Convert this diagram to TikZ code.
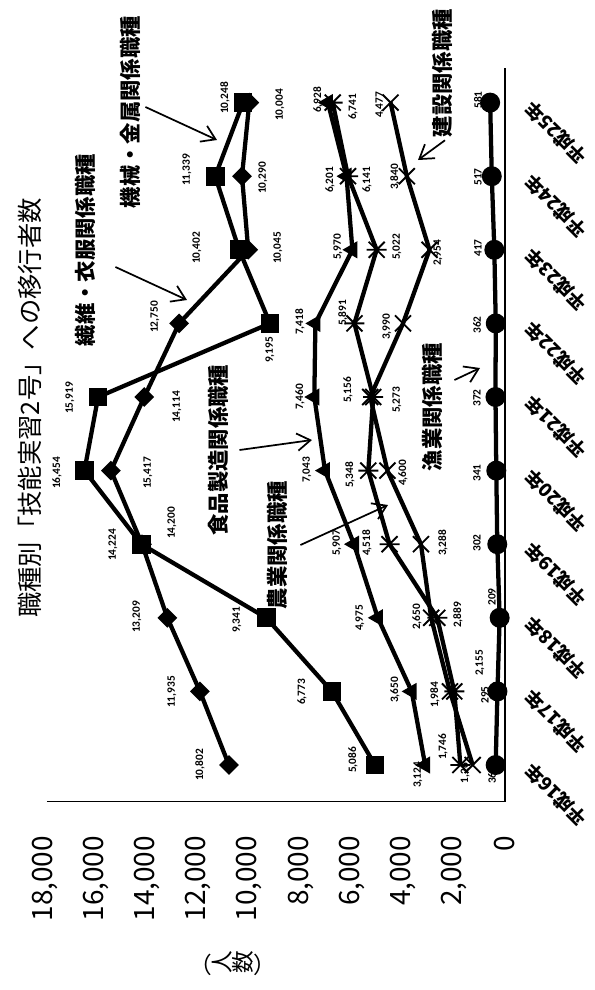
\documentclass[tikz,border=0pt]{standalone}
\usepackage{graphicx}
\usepackage{fontspec}
\setmainfont{Noto Sans CJK JP}
\newfontfamily\numfont{Carlito}
\usetikzlibrary{shapes.geometric,arrows.meta}
\tikzset{
    series/.style = {line width=3.2pt, line join=round},
    axis/.style = {line width=0.8pt},
    sqmark/.style = {rectangle, fill=black, minimum size=14pt, inner sep=0pt},
    dimark/.style = {diamond, fill=black, minimum size=15pt, inner sep=0pt},
    trimark/.style = {regular polygon, regular polygon sides=3, shape border rotate=90, fill=black, minimum size=15pt, inner sep=0pt},
    cimark/.style = {circle, fill=black, minimum size=15pt, inner sep=0pt},
    vlabel/.style = {rotate=90, inner sep=0pt, font=\numfont\bfseries\fontsize{8.5}{10}\selectfont},
    ticklabel/.style = {rotate=90, anchor=east, inner sep=0pt, font=\fontsize{21}{24}\selectfont},
    catlabel/.style = {rotate=135, inner sep=0pt, font=\bfseries\fontsize{14}{16}\selectfont},
    note/.style = {rotate=90, inner sep=0pt, font=\bfseries\fontsize{16}{18}\selectfont},
    arrow/.style = {draw, line width=1.3pt, -{Straight Barb[length=10pt,width=13pt]}},
    xmark/.pic = {\draw[line width=1.4pt] (-6pt,-6pt) -- (6pt,6pt) (-6pt,6pt) -- (6pt,-6pt);},
    astmark/.pic = {\draw[line width=1.4pt] (-6pt,-6pt) -- (6pt,6pt) (-6pt,6pt) -- (6pt,-6pt) (-7.5pt,0pt) -- (7.5pt,0pt);}
}
\begin{document}
\begin{tikzpicture}[x=0.75pt, y=-0.75pt]
    \useasboundingbox (0,0) rectangle (595,990);
    \node [rotate=90, inner sep=0pt, font=\fontsize{19}{22}\selectfont] (title) at (30,408) {職種別「技能実習2号」への移行者数};
    \node [inner sep=0pt, font=\fontsize{17}{20}\selectfont] (unit) at (233,963) {（\rotatebox{90}{人}\rotatebox{90}{数}）};
    \begin{scope}[shift={(505,765)}, x={(0pt,55.2pt)}, y={(-19.17pt,0pt)}]
        \coordinate (axtop) at (-0.5,17.92);
        \coordinate (orig) at (-0.5,0);
        \coordinate (axend) at (9.47,0);
        \draw [axis] (axtop) -- (orig) -- (axend);
        \foreach \v/\t in {0/0,2/2{,}000,4/4{,}000,6/6{,}000,8/8{,}000,10/10{,}000,12/12{,}000,14/14{,}000,16/16{,}000,18/18{,}000}
            \node [ticklabel] (tick\v) at (-0.96,\v) {\t};
        \foreach \i [evaluate=\i as \yr using int(\i+16)] in {0,...,9}
            \node [catlabel] (cat\i) at (\i-0.41,-2.0) {平成\yr 年};
        \foreach \s/\vals in {kikai/{5.086,6.773,9.341,14.224,16.454,15.919,9.195,10.402,11.339,10.248},
                              seni/{10.802,11.935,13.209,14.200,15.417,14.114,12.750,10.045,10.290,10.004},
                              shoku/{3.124,3.650,4.975,5.907,7.043,7.460,7.418,5.970,6.201,6.928},
                              nogyo/{1.746,1.984,2.650,4.518,5.348,5.156,5.891,5.022,6.141,6.741},
                              kensetsu/{1.265,2.155,2.889,3.288,4.600,5.273,3.990,2.954,3.840,4.477},
                              gyogyo/{0.365,0.295,0.209,0.302,0.341,0.372,0.362,0.417,0.517,0.581}}
            \foreach \v [count=\i from 0] in \vals
                \coordinate (\s\i) at (\i,\v);
        \foreach \s in {kikai,seni,shoku,nogyo,kensetsu,gyogyo}
            \draw [series] (\s0) \foreach \i in {1,...,9} {-- (\s\i)};
        \foreach \i in {0,...,9}{
            \node [dimark] (seniM\i) at (seni\i) {};
            \node [sqmark] (kikaiM\i) at (kikai\i) {};
            \node [trimark] (shokuM\i) at (shoku\i) {};
            \node [cimark] (gyogyoM\i) at (gyogyo\i) {};
            \pic at (nogyo\i) {astmark};
            \pic at (kensetsu\i) {xmark};
        }
    \end{scope}
    \foreach \t/\px/\py [count=\n] in {5{,}086/353/760, 6{,}773/302/692, 9{,}341/237/620, 14{,}224/113/545, 16{,}454/57/473,
            15{,}919/70/398, 9{,}195/270/350, 10{,}402/197/248, 11{,}339/187/170, 10{,}248/225/98,
            10{,}802/200/765, 11{,}935/172/692, 13{,}209/137/617, 14{,}200/172/523, 15{,}417/148/473,
            14{,}114/177/407, 12{,}750/155/317, 10{,}045/278/248, 10{,}290/263/178, 10{,}004/280/105,
            3{,}124/418/775, 3{,}650/395/690, 4{,}975/360/618, 5{,}907/337/543, 7{,}043/307/470,
            7{,}460/300/397, 7{,}418/300/322, 5{,}970/338/247, 6{,}201/330/180, 6{,}928/318/100,
            1{,}746/443/747, 1{,}984/435/695, 2{,}650/417/617, 4{,}518/367/543, 5{,}348/350/475,
            5{,}156/348/390, 5{,}891/343/313, 5{,}022/397/247, 6{,}141/367/180, 6{,}741/353/107,
            1{,}26/465/773, 2{,}155/480/663, 2{,}889/458/615, 3{,}288/443/543, 4{,}600/403/473,
            5{,}273/397/400, 3{,}990/387/327, 2{,}954/438/253, 3{,}840/395/177, 4{,}477/380/105,
            36/492/778, 295/485/695, 209/492/597, 302/477/543, 341/477/473,
            372/477/398, 362/477/325, 417/478/248, 517/478/177, 581/478/100}
        \node [vlabel] (val\n) at (\px,\py) {\t};
    \node [note] (kikaiTxt) at (130,112) {機械・金属関係職種};
    \node [note] (seniTxt) at (85,250) {繊維・衣服関係職種};
    \node [note] (shokuTxt) at (218,450) {食品製造関係職種};
    \node [note] (nogyoTxt) at (277,545) {農業関係職種};
    \node [note] (gyogyoTxt) at (432,407) {漁業関係職種};
    \node [note] (kenTxt) at (442,73) {建設関係職種};
    \coordinate (kikaiHead) at (217,140);
    \coordinate (seniHead) at (187,300);
    \coordinate (shokuHead) at (312,440);
    \coordinate (nogyoHead) at (388,505);
    \coordinate (gyogyoHead) at (480,368);
    \coordinate (kenHead) at (418,160);
    \draw [arrow] ([shift={(5,-5)}]kikaiTxt.south) -- (kikaiHead);
    \draw [arrow] ([shift={(20,17)}]seniTxt.south) -- (seniHead);
    \draw [arrow] ([shift={(11,0)}]shokuTxt.south) -- (shokuHead);
    \draw [arrow] ([shift={(13,0)}]nogyoTxt.south) -- (nogyoHead);
    \draw [arrow] ([shift={(12,-27)}]gyogyoTxt.south) -- (gyogyoHead);
    \draw [arrow] ([shift={(3,3)}]kenTxt.west) -- (kenHead);
\end{tikzpicture}
\end{document}
